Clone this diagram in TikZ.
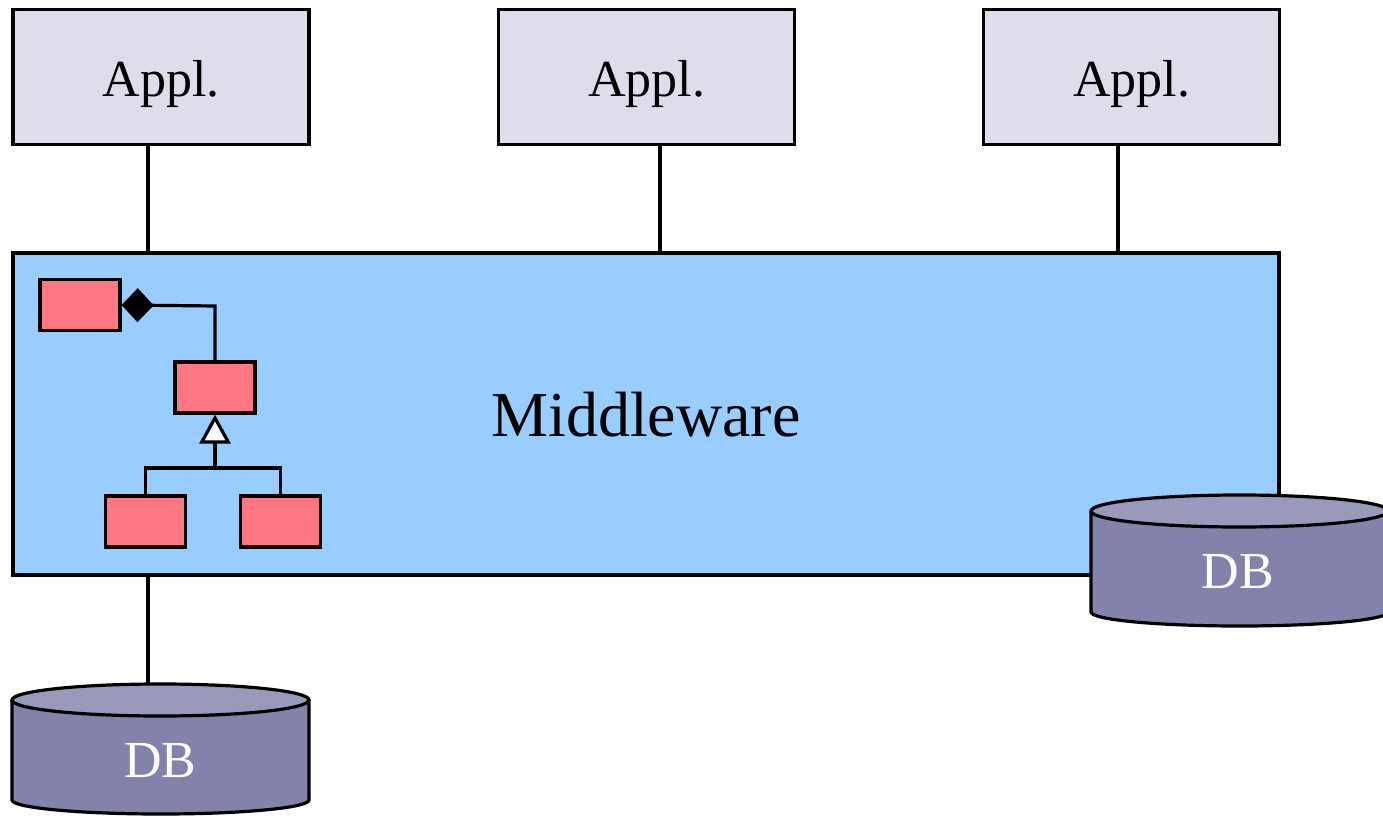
\documentclass[tikz,border=0pt]{standalone}
\usepackage{fontspec}
\setmainfont{Liberation Serif}
\usetikzlibrary{arrows.meta}
\definecolor{applfill}{RGB}{222,222,235}
\definecolor{mwfill}{RGB}{153,204,255}
\definecolor{clsfill}{RGB}{255,119,128}
\definecolor{dbside}{RGB}{130,130,170}
\definecolor{dbtop}{RGB}{153,153,187}
\tikzset{
  appl/.style={draw, line width=3.2pt, fill=applfill, minimum width=296pt, minimum height=135pt,
    font=\fontsize{52}{60}\selectfont, text height=40pt, text depth=0pt, inner sep=0pt},
  mw/.style={draw, line width=3.2pt, fill=mwfill, minimum width=1266pt, minimum height=322pt,
    font=\fontsize{64}{72}\selectfont, text height=44pt, text depth=0pt, inner sep=0pt},
  cls/.style={draw, line width=3.2pt, fill=clsfill, minimum width=80pt, minimum height=51pt, inner sep=0pt},
  conn/.style={line width=3.2pt},
  dbtext/.style={text=white, font=\fontsize{52}{60}\selectfont, anchor=base, inner sep=0pt},
}
\newcommand{\dbcyl}[4]{% #1 left x, #2 top ellipse centre y, #3 bottom centre y, #4 rx
  \fill[dbside] (#1,#2) -- (#1,#3) arc[start angle=180, end angle=360, x radius=#4pt, y radius=14pt] -- ({#1+2*#4},#2) -- cycle;
  \draw[line width=3.2pt] (#1,#2) -- (#1,#3) arc[start angle=180, end angle=360, x radius=#4pt, y radius=14pt] -- ({#1+2*#4},#2);
  \draw[line width=3.2pt, fill=dbtop] ({#1+#4},#2) ellipse[x radius=#4pt, y radius=16pt];
}
\begin{document}
\begin{tikzpicture}[x=1pt, y=-1pt]
\useasboundingbox (0,0) rectangle (1383,818);
\clip (0,0) rectangle (1383,818);
\node[appl] (a1) at (161,77) {Appl.};
\node[appl] (a2) at (646.5,77) {Appl.};
\node[appl] (a3) at (1131.5,77) {Appl.};
\node[mw] (mw) at (646,414) {Middleware};
\coordinate (l1) at (148,0);
\coordinate (l2) at (660,0);
\coordinate (l3) at (1118,0);
\draw[conn] (a1.south -| l1) -- (mw.north -| l1);
\draw[conn] (a2.south -| l2) -- (mw.north -| l2);
\draw[conn] (a3.south -| l3) -- (mw.north -| l3);
% classes
\node[cls] (ca) at (80,305) {};
\node[cls] (cb) at (215,387.5) {};
\node[cls] (cc) at (145.5,521.5) {};
\node[cls] (cd) at (280.5,521.5) {};
\coordinate (bend) at (215,306);
\coordinate (junc) at (215,468);
\draw[conn, {Diamond[length=32pt 0 0, width=34pt 0 0]}-] (ca.east) -- (bend) -- (cb.north);
\draw[conn] (cc.north) |- (junc) -| (cd.north);
\draw[conn, -{Triangle[open, fill=white, length=29pt 0 0, width=31pt 0 0]}] (junc) -- (cb.south);
% databases
\coordinate (l4) at (148,684);
\draw[conn] (mw.south -| l4) -- (l4);
\dbcyl{12}{700}{800}{148.5}
\node[dbtext] (db1) at (160.5,777) {DB};
\dbcyl{1091}{511}{612}{148.5}
\node[dbtext] (db2) at (1238,588) {DB};
\end{tikzpicture}
\end{document}
